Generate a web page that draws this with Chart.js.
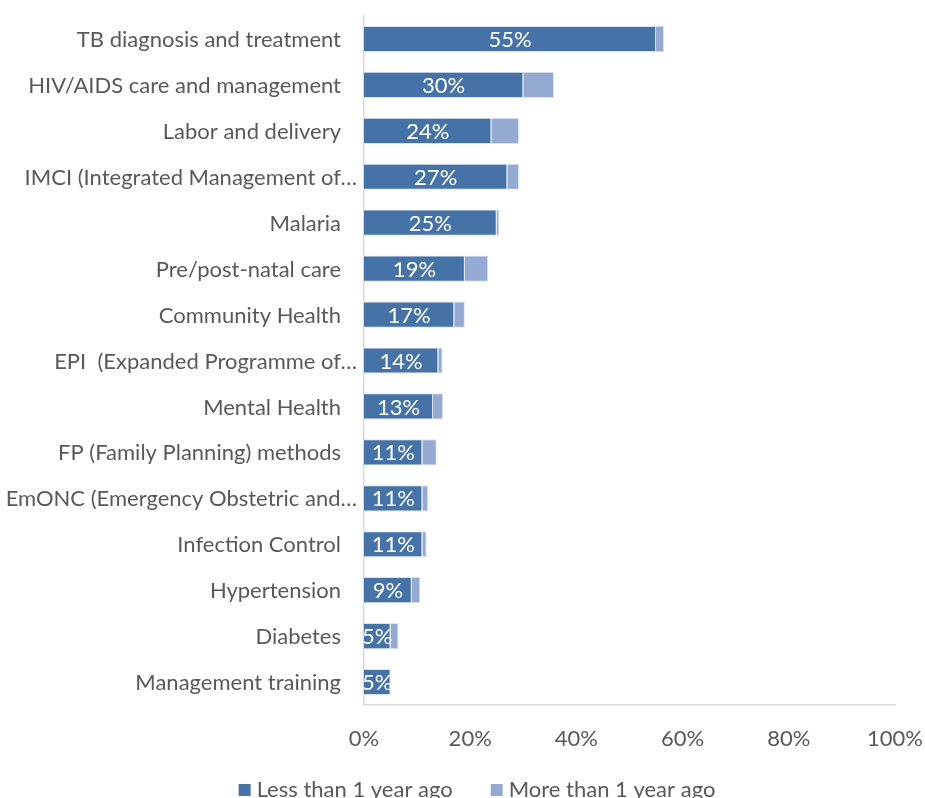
<!DOCTYPE html>
<html>
<head>
<meta charset="utf-8">
<script src="https://cdn.jsdelivr.net/npm/chart.js@4/dist/chart.umd.min.js"></script>
<style>
    html, body { margin: 0; padding: 0; background: #ffffff; overflow: hidden; }
    #trainingChart { display: block; }
</style>
</head>
<body>
<canvas id="trainingChart" width="925" height="798"></canvas>
<script>
const trainings = [
    "TB diagnosis and treatment",
    "HIV/AIDS care and management",
    "Labor and delivery",
    "IMCI (Integrated Management of…",
    "Malaria",
    "Pre/post-natal care",
    "Community Health",
    "EPI  (Expanded Programme of…",
    "Mental Health",
    "FP (Family Planning) methods",
    "EmONC (Emergency Obstetric and…",
    "Infection Control",
    "Hypertension",
    "Diabetes",
    "Management training"
];
const lessThanYear = [55, 30, 24, 27, 25, 19, 17, 14, 13, 11, 11, 11, 9, 5, 5];
const moreThanYear = [1.5, 5.8, 5.2, 2.2, 0.5, 4.4, 2, 0.8, 1.9, 2.7, 1.1, 0.8, 1.6, 1.5, 0];
const xTicks = [0, 20, 40, 60, 80, 100];

const textColor = "#595959";
const fontFamily = "Lato, 'Open Sans', sans-serif";
const labelFont = "22px " + fontFamily;

// white percentage labels centred in the dark segment
const barLabels = {
    id: "barLabels",
    afterDatasetsDraw(chart) {
        const { ctx, chartArea } = chart;
        const meta = chart.getDatasetMeta(0);
        ctx.save();
        ctx.beginPath();
        ctx.rect(chartArea.left, chartArea.top, chartArea.right - chartArea.left, chartArea.bottom - chartArea.top);
        ctx.clip();
        ctx.fillStyle = "#ffffff";
        ctx.font = labelFont;
        ctx.textAlign = "center";
        ctx.textBaseline = "middle";
        meta.data.forEach((bar, i) => {
            const cx = (bar.base + bar.x) / 2;
            ctx.fillText(lessThanYear[i] + "%", cx, bar.y + 1);
        });
        ctx.restore();
    }
};

// category names; the cut-off ones run a little closer to the axis
const categoryLabels = {
    id: "categoryLabels",
    afterDraw(chart) {
        const { ctx } = chart;
        const y = chart.scales.y;
        ctx.save();
        ctx.fillStyle = textColor;
        ctx.font = labelFont;
        ctx.textAlign = "right";
        ctx.textBaseline = "middle";
        trainings.forEach((name, i) => {
            const right = name.endsWith("…") ? y.right - 7 : y.right - 23;
            ctx.fillText(name, right, y.getPixelForTick(i) + 1);
        });
        ctx.restore();
    }
};

// legend row under the axis
const bottomLegend = {
    id: "bottomLegend",
    afterDraw(chart) {
        const { ctx } = chart;
        const items = chart.data.datasets.map(ds => ({ text: ds.label, color: ds.backgroundColor }));
        const box = 12, gap = 6, spacing = 38, centerX = 477, y = 790;
        ctx.save();
        ctx.font = labelFont;
        ctx.textBaseline = "middle";
        ctx.textAlign = "left";
        const widths = items.map(it => box + gap + ctx.measureText(it.text).width);
        const total = widths.reduce((a, b) => a + b, 0) + spacing * (items.length - 1);
        let x = centerX - total / 2;
        items.forEach((it, i) => {
            ctx.fillStyle = it.color;
            ctx.fillRect(x, y - box / 2, box, box);
            ctx.fillStyle = textColor;
            ctx.fillText(it.text, x + box + gap, y);
            x += widths[i] + spacing;
        });
        ctx.restore();
    }
};

new Chart(document.getElementById("trainingChart"), {
    type: "bar",
    data: {
        labels: trainings,
        datasets: [
            {
                label: "Less than 1 year ago",
                data: lessThanYear,
                backgroundColor: "#4673a7",
                borderColor: "#dbe3ef",
                borderWidth: 1,
                categoryPercentage: 1,
                barPercentage: 0.57
            },
            {
                label: "More than 1 year ago",
                data: moreThanYear,
                backgroundColor: "#95aad2",
                borderColor: "#dbe3ef",
                borderWidth: 1,
                categoryPercentage: 1,
                barPercentage: 0.57
            }
        ]
    },
    options: {
        indexAxis: "y",
        responsive: false,
        animation: false,
        layout: { padding: { top: 16, right: 30, left: 0, bottom: 47 } },
        plugins: {
            tooltip: { enabled: false },
            legend: { display: false }
        },
        scales: {
            x: {
                stacked: true,
                min: 0,
                max: 100,
                afterBuildTicks: scale => { scale.ticks = xTicks.map(v => ({ value: v })); },
                afterFit: scale => {
                    scale.height = 46;
                    scale.paddingLeft = 0;
                    scale.paddingRight = 0;
                },
                grid: { display: false, drawTicks: false },
                border: { display: true, color: "#d9d9d9", width: 1.5 },
                ticks: {
                    color: textColor,
                    font: { family: fontFamily, size: 22, lineHeight: 1 },
                    padding: 23,
                    maxRotation: 0,
                    callback: v => v + "%"
                }
            },
            y: {
                stacked: true,
                afterFit: scale => {
                    scale.width = 364;
                    scale.paddingTop = 0;
                    scale.paddingBottom = 0;
                },
                grid: { display: false, drawTicks: false },
                border: { display: true, color: "#d9d9d9", width: 1.5 },
                ticks: { display: false, autoSkip: false }
            }
        }
    },
    plugins: [barLabels, categoryLabels, bottomLegend]
});
</script>
</body>
</html>
